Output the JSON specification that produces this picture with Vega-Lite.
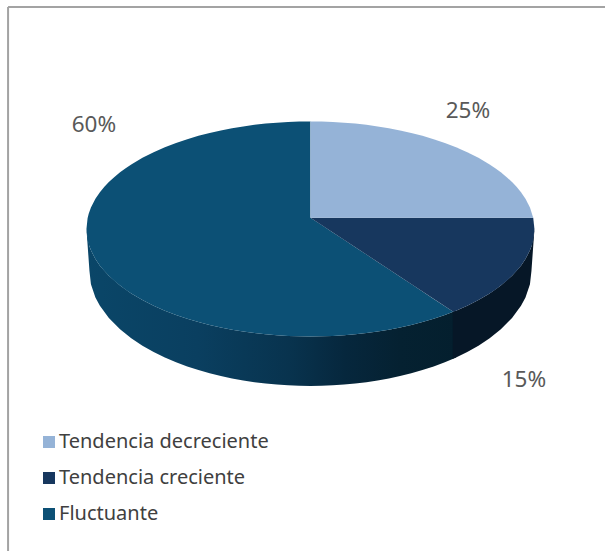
{
"$schema":"https://vega.github.io/schema/vega-lite/v6.json",
"width":605,"height":551,
"autosize":{"type":"none"},
"padding":0,
"background":"white",
"config":{"view":{"stroke":null}},
"datasets":{
"slices":[
{"slice":"Tendencia decreciente","share":0.25,"x":70.3,"y":53.1},
{"slice":"Tendencia creciente","share":0.15,"x":95.3,"y":-67},
{"slice":"Fluctuante","share":0.60,"x":-96.65,"y":46.9}
],
"frame":[
{"x":-135,"y":99.1,"x2":-135,"y2":-143.75},
{"x":-135,"y":99.1,"x2":131.5,"y2":99.1}
],
"wallFront":[
{"x":-100,"y":0,"y2":0},{"x":-98.66,"y":-7.83,"y2":-18.75},{"x":-98,"y":-9.55,"y2":-24.67},{"x":-96,"y":-13.44,"y2":-30.58},{"x":-94,"y":-16.38,"y2":-34.33},{"x":-90,"y":-20.92,"y2":-39.77},{"x":-85,"y":-25.29,"y2":-44.79},{"x":-80,"y":-28.8,"y2":-48.77},{"x":-75,"y":-31.75,"y2":-52.08},{"x":-70,"y":-34.28,"y2":-54.9},{"x":-65,"y":-36.48,"y2":-57.34},{"x":-60,"y":-38.4,"y2":-59.47},{"x":-55,"y":-40.09,"y2":-61.34},{"x":-50,"y":-41.57,"y2":-62.97},{"x":-45,"y":-42.87,"y2":-64.4},{"x":-40,"y":-43.99,"y2":-65.65},{"x":-35,"y":-44.96,"y2":-66.71},{"x":-30,"y":-45.79,"y2":-67.62},{"x":-25,"y":-46.48,"y2":-68.38},{"x":-20,"y":-47.03,"y2":-68.99},{"x":-15,"y":-47.46,"y2":-69.45},{"x":-10,"y":-47.76,"y2":-69.79},{"x":-5,"y":-47.94,"y2":-69.98},{"x":0,"y":-48,"y2":-70.05},{"x":5,"y":-47.94,"y2":-69.98},{"x":10,"y":-47.76,"y2":-69.79},{"x":15,"y":-47.46,"y2":-69.45},{"x":20,"y":-47.03,"y2":-68.99},{"x":25,"y":-46.48,"y2":-68.38},{"x":30,"y":-45.79,"y2":-67.62},{"x":35,"y":-44.96,"y2":-66.71},{"x":40,"y":-43.99,"y2":-65.65},{"x":45,"y":-42.87,"y2":-64.4},{"x":50,"y":-41.57,"y2":-62.97},{"x":55,"y":-40.09,"y2":-61.34},{"x":60,"y":-38.4,"y2":-59.47},{"x":63.75,"y":-36.98,"y2":-57.9},{"x":65,"y":-36.48,"y2":-57.34}
],
"wallRight":[
{"x":63.5,"y":-36.98,"y2":-57.9},{"x":65,"y":-36.48,"y2":-57.34},{"x":70,"y":-34.28,"y2":-54.9},{"x":75,"y":-31.75,"y2":-52.08},{"x":80,"y":-28.8,"y2":-48.77},{"x":85,"y":-25.29,"y2":-44.79},{"x":90,"y":-20.92,"y2":-39.77},{"x":94,"y":-16.38,"y2":-34.33},{"x":96,"y":-13.44,"y2":-30.58},{"x":98,"y":-9.55,"y2":-24.67},{"x":98.66,"y":-7.83,"y2":-18.75},{"x":100,"y":0,"y2":0}
],
"tops":[
{"slice":"Fluctuante","x":-100,"y":0,"y2":0},{"slice":"Fluctuante","x":-99.5,"y":4.8,"y2":-4.8},{"slice":"Fluctuante","x":-99,"y":6.77,"y2":-6.77},{"slice":"Fluctuante","x":-98,"y":9.55,"y2":-9.55},{"slice":"Fluctuante","x":-96,"y":13.44,"y2":-13.44},{"slice":"Fluctuante","x":-94,"y":16.38,"y2":-16.38},{"slice":"Fluctuante","x":-92,"y":18.81,"y2":-18.81},{"slice":"Fluctuante","x":-90,"y":20.92,"y2":-20.92},{"slice":"Fluctuante","x":-87.5,"y":23.24,"y2":-23.24},{"slice":"Fluctuante","x":-85,"y":25.29,"y2":-25.29},{"slice":"Fluctuante","x":-82.5,"y":27.13,"y2":-27.13},{"slice":"Fluctuante","x":-80,"y":28.8,"y2":-28.8},{"slice":"Fluctuante","x":-75,"y":31.75,"y2":-31.75},{"slice":"Fluctuante","x":-70,"y":34.28,"y2":-34.28},{"slice":"Fluctuante","x":-65,"y":36.48,"y2":-36.48},{"slice":"Fluctuante","x":-60,"y":38.4,"y2":-38.4},{"slice":"Fluctuante","x":-55,"y":40.09,"y2":-40.09},{"slice":"Fluctuante","x":-50,"y":41.57,"y2":-41.57},{"slice":"Fluctuante","x":-45,"y":42.87,"y2":-42.87},{"slice":"Fluctuante","x":-40,"y":43.99,"y2":-43.99},{"slice":"Fluctuante","x":-35,"y":44.96,"y2":-44.96},{"slice":"Fluctuante","x":-30,"y":45.79,"y2":-45.79},{"slice":"Fluctuante","x":-25,"y":46.48,"y2":-46.48},{"slice":"Fluctuante","x":-20,"y":47.03,"y2":-47.03},{"slice":"Fluctuante","x":-15,"y":47.46,"y2":-47.46},{"slice":"Fluctuante","x":-10,"y":47.76,"y2":-47.76},{"slice":"Fluctuante","x":-5,"y":47.94,"y2":-47.94},{"slice":"Fluctuante","x":0,"y":48,"y2":-48},{"slice":"Fluctuante","x":0.01,"y":5.04,"y2":-48},{"slice":"Fluctuante","x":5,"y":1.74,"y2":-47.94},{"slice":"Fluctuante","x":10,"y":-1.55,"y2":-47.76},{"slice":"Fluctuante","x":15,"y":-4.85,"y2":-47.46},{"slice":"Fluctuante","x":20,"y":-8.14,"y2":-47.03},{"slice":"Fluctuante","x":25,"y":-11.44,"y2":-46.48},{"slice":"Fluctuante","x":30,"y":-14.73,"y2":-45.79},{"slice":"Fluctuante","x":35,"y":-18.03,"y2":-44.96},{"slice":"Fluctuante","x":40,"y":-21.33,"y2":-43.99},{"slice":"Fluctuante","x":45,"y":-24.62,"y2":-42.87},{"slice":"Fluctuante","x":50,"y":-27.92,"y2":-41.57},{"slice":"Fluctuante","x":55,"y":-31.21,"y2":-40.09},{"slice":"Fluctuante","x":60,"y":-34.51,"y2":-38.4},{"slice":"Fluctuante","x":63.75,"y":-36.98,"y2":-36.98},
{"slice":"Tendencia creciente","x":0,"y":5.04,"y2":5.04},{"slice":"Tendencia creciente","x":63.75,"y":5.04,"y2":-36.98},{"slice":"Tendencia creciente","x":65,"y":5.04,"y2":-36.48},{"slice":"Tendencia creciente","x":70,"y":5.04,"y2":-34.28},{"slice":"Tendencia creciente","x":75,"y":5.04,"y2":-31.75},{"slice":"Tendencia creciente","x":80,"y":5.04,"y2":-28.8},{"slice":"Tendencia creciente","x":82.5,"y":5.04,"y2":-27.13},{"slice":"Tendencia creciente","x":85,"y":5.04,"y2":-25.29},{"slice":"Tendencia creciente","x":87.5,"y":5.04,"y2":-23.24},{"slice":"Tendencia creciente","x":90,"y":5.04,"y2":-20.92},{"slice":"Tendencia creciente","x":92,"y":5.04,"y2":-18.81},{"slice":"Tendencia creciente","x":94,"y":5.04,"y2":-16.38},{"slice":"Tendencia creciente","x":96,"y":5.04,"y2":-13.44},{"slice":"Tendencia creciente","x":98,"y":5.04,"y2":-9.55},{"slice":"Tendencia creciente","x":99,"y":5.04,"y2":-6.77},{"slice":"Tendencia creciente","x":99.45,"y":5.04,"y2":-5.03},{"slice":"Tendencia creciente","x":100,"y":0,"y2":0},
{"slice":"Tendencia decreciente","x":0,"y":48,"y2":5.04},{"slice":"Tendencia decreciente","x":5,"y":47.94,"y2":5.04},{"slice":"Tendencia decreciente","x":10,"y":47.76,"y2":5.04},{"slice":"Tendencia decreciente","x":15,"y":47.46,"y2":5.04},{"slice":"Tendencia decreciente","x":20,"y":47.03,"y2":5.04},{"slice":"Tendencia decreciente","x":25,"y":46.48,"y2":5.04},{"slice":"Tendencia decreciente","x":30,"y":45.79,"y2":5.04},{"slice":"Tendencia decreciente","x":35,"y":44.96,"y2":5.04},{"slice":"Tendencia decreciente","x":40,"y":43.99,"y2":5.04},{"slice":"Tendencia decreciente","x":45,"y":42.87,"y2":5.04},{"slice":"Tendencia decreciente","x":50,"y":41.57,"y2":5.04},{"slice":"Tendencia decreciente","x":55,"y":40.09,"y2":5.04},{"slice":"Tendencia decreciente","x":60,"y":38.4,"y2":5.04},{"slice":"Tendencia decreciente","x":65,"y":36.48,"y2":5.04},{"slice":"Tendencia decreciente","x":70,"y":34.28,"y2":5.04},{"slice":"Tendencia decreciente","x":75,"y":31.75,"y2":5.04},{"slice":"Tendencia decreciente","x":80,"y":28.8,"y2":5.04},{"slice":"Tendencia decreciente","x":82.5,"y":27.13,"y2":5.04},{"slice":"Tendencia decreciente","x":85,"y":25.29,"y2":5.04},{"slice":"Tendencia decreciente","x":87.5,"y":23.24,"y2":5.04},{"slice":"Tendencia decreciente","x":90,"y":20.92,"y2":5.04},{"slice":"Tendencia decreciente","x":92,"y":18.81,"y2":5.04},{"slice":"Tendencia decreciente","x":94,"y":16.38,"y2":5.04},{"slice":"Tendencia decreciente","x":96,"y":13.44,"y2":5.04},{"slice":"Tendencia decreciente","x":98,"y":9.55,"y2":5.04},{"slice":"Tendencia decreciente","x":99.45,"y":5.04,"y2":5.04}
]
},
"encoding":{
"x":{"field":"x","type":"quantitative","axis":null,"scale":{"domain":[-138.6,131.5],"nice":false,"zero":false}},
"y":{"field":"y","type":"quantitative","axis":null,"scale":{"domain":[-143.75,102.2],"nice":false,"zero":false}}
},
"layer":[
{"data":{"name":"frame"},"mark":{"type":"rule","stroke":"#a3a3a3","strokeWidth":2},
 "encoding":{"x2":{"field":"x2"},"y2":{"field":"y2"}}},
{"data":{"name":"wallFront"},"mark":{"type":"area","opacity":1,"fill":{"gradient":"linear","x1":0,"y1":0,"x2":1,"y2":0,"stops":[{"offset":0,"color":"#0a4668"},{"offset":0.3,"color":"#0a3f60"},{"offset":0.55,"color":"#08334e"},{"offset":0.7,"color":"#06273d"},{"offset":0.85,"color":"#052131"},{"offset":1,"color":"#041f2e"}]}},
 "encoding":{"y2":{"field":"y2"}}},
{"data":{"name":"wallRight"},"mark":{"type":"area","opacity":1,"fill":"#061727"},
 "encoding":{"y2":{"field":"y2"}}},
{"data":{"name":"tops"},"mark":{"type":"area","opacity":1},
 "encoding":{"y2":{"field":"y2"},
  "color":{"field":"slice","type":"nominal","scale":{"domain":["Tendencia decreciente","Tendencia creciente","Fluctuante"],"range":["#95b3d7","#17375e","#0c5075"]},
   "legend":{"title":null,"orient":"none","legendX":39,"legendY":432,"symbolType":"square","symbolSize":144,"symbolStrokeWidth":0,"labelFont":"Noto Sans","labelFontSize":20,"labelColor":"#404040","rowPadding":16,"labelOffset":0,"labelLimit":400,"symbolOpacity":1}}}},
{"data":{"name":"slices"},"mark":{"type":"text","font":"Noto Sans","fontSize":22.5,"fill":"#595959","align":"center","baseline":"middle","dy":1},
 "encoding":{"text":{"field":"share","type":"quantitative","format":".0%"}}}
]
}
